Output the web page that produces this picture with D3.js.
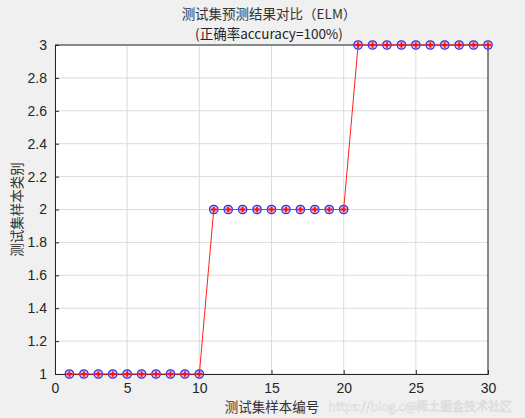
<!doctype html>
<html lang="zh-CN">
<head>
<meta charset="UTF-8">
<title>测试集预测结果对比</title>
<script src="https://d3js.org/d3.v7.min.js"></script>
<style>
  body { margin: 0; background: #f0f0f0; }
  svg { display: block; font-family: "Liberation Sans", Arial, sans-serif; }
  .cjk { font-family: "Noto Sans CJK SC", "Noto Sans", sans-serif; }
</style>
</head>
<body>
<svg id="cvas" width="525" height="418"></svg>
<script>
  // data
  const sampleIdx = d3.range(1, 31);
  const trueClass = [1,1,1,1,1,1,1,1,1,1, 2,2,2,2,2,2,2,2,2,2, 3,3,3,3,3,3,3,3,3,3];
  const predClass = [1,1,1,1,1,1,1,1,1,1, 2,2,2,2,2,2,2,2,2,2, 3,3,3,3,3,3,3,3,3,3];
  const xTicks = [0, 5, 10, 15, 20, 25, 30];
  const yTicks = [1, 1.2, 1.4, 1.6, 1.8, 2, 2.2, 2.4, 2.6, 2.8, 3];

  const W = 525, H = 418;
  const margin = { left: 55, right: 37, top: 45, bottom: 44 };
  const svg = d3.select("#cvas");

  const x = d3.scaleLinear().domain([0, 30]).range([margin.left, W - margin.right]);
  const y = d3.scaleLinear().domain([1, 3]).range([H - margin.bottom, margin.top]);

  // axes background
  svg.append("rect")
    .attr("x", x(0)).attr("y", y(3))
    .attr("width", x(30) - x(0)).attr("height", y(1) - y(3))
    .attr("fill", "#ffffff");

  // grid
  svg.append("g").selectAll("line").data(xTicks).join("line")
    .attr("x1", d => x(d)).attr("x2", d => x(d))
    .attr("y1", y(1)).attr("y2", y(3))
    .attr("stroke", "#dcdcdc").attr("stroke-width", 1);
  svg.append("g").selectAll("line").data(yTicks).join("line")
    .attr("x1", x(0)).attr("x2", x(30))
    .attr("y1", d => y(d)).attr("y2", d => y(d))
    .attr("stroke", "#dcdcdc").attr("stroke-width", 1);

  // axes
  const xAxis = svg.append("g")
    .attr("transform", `translate(0,${y(1)})`)
    .call(d3.axisBottom(x).tickValues(xTicks).tickSize(-4).tickPadding(9).tickFormat(d3.format("d")));
  const yAxis = svg.append("g")
    .attr("transform", `translate(${x(0)},0)`)
    .call(d3.axisLeft(y).tickValues(yTicks).tickSize(-4).tickPadding(8).tickFormat(d => +d.toFixed(1)));
  [xAxis, yAxis].forEach(a => {
    a.select(".domain").attr("stroke", "#262626");
    a.selectAll(".tick line").attr("stroke", "#262626");
    a.selectAll(".tick text").style("font-size", "14px").attr("fill", "#262626");
  });
  // top/right box
  svg.append("line").attr("x1", x(0)).attr("x2", x(30)).attr("y1", y(3)).attr("y2", y(3)).attr("stroke", "#262626");
  svg.append("line").attr("x1", x(30)).attr("x2", x(30)).attr("y1", y(3)).attr("y2", y(1)).attr("stroke", "#262626");

  // true class: blue circles
  svg.append("g").selectAll("circle").data(sampleIdx).join("circle")
    .attr("cx", d => x(d)).attr("cy", (d, i) => y(trueClass[i]))
    .attr("r", 4.2).attr("fill", "#d08ad8").attr("fill-opacity", 0.5)
    .attr("stroke", "#3030e0").attr("stroke-width", 1.3);

  // predicted: red line with star markers
  const line = d3.line().x(d => x(d)).y((d, i) => y(predClass[i]));
  svg.append("path").attr("d", line(sampleIdx))
    .attr("fill", "none").attr("stroke", "#ff2020").attr("stroke-width", 1);
  const star = d3.symbol().type(d3.symbolCross).size(18);
  svg.append("g").selectAll("path").data(sampleIdx).join("path")
    .attr("d", star)
    .attr("transform", (d, i) => `translate(${x(d)},${y(predClass[i])})`)
    .attr("fill", "#ff1010");

  // titles
  svg.append("text").attr("class", "cjk")
    .attr("x", 269).attr("y", 19).attr("text-anchor", "middle")
    .attr("fill", "#333").style("font-size", "13.5px")
    .text("测试集预测结果对比（ELM）");
  svg.append("text").attr("class", "cjk")
    .attr("x", 269).attr("y", 39).attr("text-anchor", "middle")
    .attr("fill", "#262626").style("font-size", "13.5px")
    .text("(正确率accuracy=100%)");

  // axis labels
  svg.append("text").attr("class", "cjk")
    .attr("x", 272).attr("y", 412).attr("text-anchor", "middle")
    .attr("fill", "#333").style("font-size", "13.5px")
    .text("测试集样本编号");
  svg.append("text").attr("class", "cjk")
    .attr("transform", `translate(22,${(y(1) + y(3)) / 2}) rotate(-90)`)
    .attr("text-anchor", "middle")
    .attr("fill", "#333").style("font-size", "13.5px")
    .text("测试集样本类别");

  // watermark
  svg.append("text").attr("class", "cjk")
    .attr("x", 512).attr("y", 411).attr("text-anchor", "end")
    .attr("fill", "#ffffff").attr("fill-opacity", 0.75)
    .attr("stroke", "#999").attr("stroke-opacity", 0.35).attr("stroke-width", 0.6)
    .style("font-size", "12px")
    .text("https://blog.c@稀土掘金技术社区");
</script>
</body>
</html>
